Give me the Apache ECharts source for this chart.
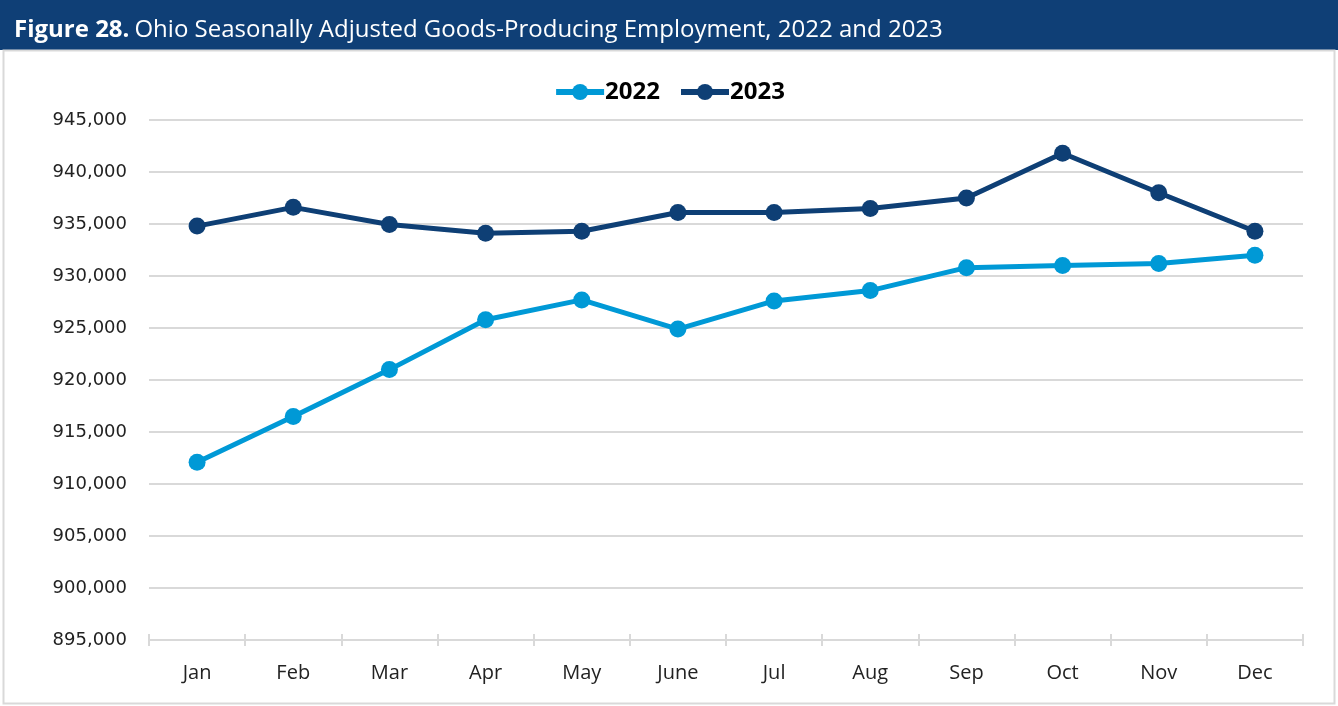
<!DOCTYPE html>
<html>
<head>
<meta charset="utf-8">
<script src="https://cdn.jsdelivr.net/npm/echarts@6/dist/echarts.min.js"></script>
<style>
  html, body { margin: 0; padding: 0; background: #ffffff; }
  #chart { width: 1338px; height: 706px; }
</style>
</head>
<body>
<div id="chart"></div>
<script>
// Ohio seasonally adjusted goods-producing employment by month
const months = ['Jan', 'Feb', 'Mar', 'Apr', 'May', 'June', 'Jul', 'Aug', 'Sep', 'Oct', 'Nov', 'Dec'];
const employment2022 = [912100, 916500, 921000, 925800, 927700, 924900, 927600, 928600, 930800, 931000, 931200, 932000];
const employment2023 = [934800, 936600, 934950, 934100, 934300, 936100, 936100, 936500, 937500, 941800, 938000, 934300];
const yMin = 895000;
const yMax = 945000;
const yStep = 5000;

const navy = '#0f3f76';
const lightBlue = '#0099d6';
const darkBlue = '#0e3f75';

const chart = echarts.init(document.getElementById('chart'));

function lineSeries(name, data, color) {
  return {
    name: name,
    type: 'line',
    data: data,
    symbol: 'circle',
    symbolSize: 17,
    lineStyle: { width: 5, color: color },
    itemStyle: { color: color },
    emphasis: { disabled: true }
  };
}

chart.setOption({
  animation: false,
  graphic: [
    { type: 'rect', shape: { x: 0, y: 0, width: 1338, height: 50 }, style: { fill: navy }, z: -10 },
    { type: 'rect', shape: { x: 3.5, y: 50.5, width: 1331, height: 653 }, style: { fill: 'none', stroke: '#d9d9d9', lineWidth: 2 }, z: -10 }
  ],
  title: {
    text: '{b|Figure 28.} {n|Ohio Seasonally Adjusted Goods-Producing Employment, 2022 and 2023}',
    left: 9,
    top: 13,
    textStyle: {
      rich: {
        b: { fontFamily: 'Open Sans', fontWeight: 'bold', fontSize: 24, color: '#ffffff' },
        n: { fontFamily: 'Open Sans', fontWeight: 'normal', fontSize: 24, color: '#ffffff' }
      }
    }
  },
  legend: {
    top: 75,
    left: 'center',
    itemWidth: 48,
    itemHeight: 20,
    itemGap: 18,
    lineStyle: { width: 6 },
    textStyle: { fontFamily: 'Open Sans', fontWeight: 'bold', fontSize: 24, color: '#000000', padding: [0, 0, 0, -4] },
    data: ['2022', '2023']
  },
  grid: { left: 149, right: 35, top: 120, bottom: 66, containLabel: false },
  xAxis: [
    {
      type: 'category',
      data: months,
      boundaryGap: true,
      axisLine: { lineStyle: { color: '#d9d9d9', width: 2 } },
      axisTick: { show: true, length: 6, lineStyle: { color: '#d9d9d9', width: 2 } },
      axisLabel: { fontFamily: 'Open Sans', fontSize: 20, color: '#222222', margin: 23 },
      splitLine: { show: false }
    },
    {
      type: 'category',
      data: months,
      position: 'bottom',
      boundaryGap: true,
      axisLine: { show: false },
      axisTick: { show: true, inside: true, length: 6, lineStyle: { color: '#d9d9d9', width: 2 } },
      axisLabel: { show: false },
      splitLine: { show: false }
    }
  ],
  yAxis: {
    type: 'value',
    min: yMin,
    max: yMax,
    interval: yStep,
    axisLine: { show: false },
    axisTick: { show: false },
    splitLine: { lineStyle: { color: '#d9d9d9', width: 2 } },
    axisLabel: {
      fontFamily: 'DejaVu Sans',
      fontSize: 18,
      color: '#222222',
      margin: 22,
      formatter: v => v.toLocaleString('en-US')
    }
  },
  series: [
    lineSeries('2022', employment2022, lightBlue),
    lineSeries('2023', employment2023, darkBlue)
  ]
});
</script>
</body>
</html>
